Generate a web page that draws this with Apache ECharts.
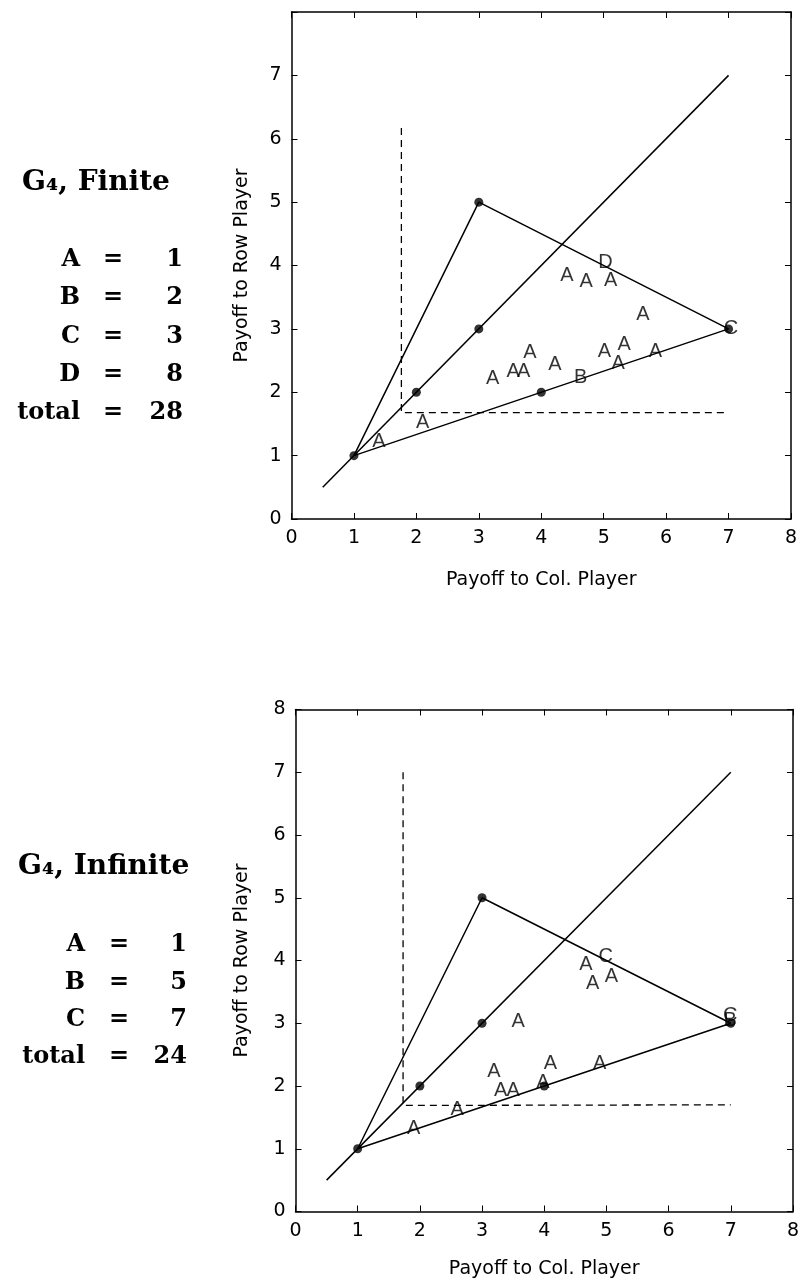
<!DOCTYPE html>
<html><head><meta charset="utf-8">
<script src="https://cdn.jsdelivr.net/npm/echarts/dist/echarts.min.js"></script>
<style>html,body{margin:0;padding:0;background:#fff}#c{width:802px;height:1284px}</style>
</head><body><div id="c"></div>
<script>
// ---------- data ----------
const tickValues = [0, 1, 2, 3, 4, 5, 6, 7, 8];
const xTickLabels = ['0', '1', '2', '3', '4', '5', '6', '7', '8'];
const finiteYTickLabels = ['0', '1', '2', '3', '4', '5', '6', '7', ''];
const infiniteYTickLabels = ['0', '1', '2', '3', '4', '5', '6', '7', '8'];

const xName = 'Payoff to Col. Player';
const yName = 'Payoff to Row Player';

// payoff region boundary and 45-degree line
const boundaryPts = [[1, 1], [3, 5], [7, 3], [1, 1]];
const diagonalPts = [[0.5, 0.5], [7, 7]];
const vertexDots = [[1, 1], [2, 2], [3, 3], [3, 5], [4, 2], [7, 3]];

// dashed reference lines
const finiteDashed = [[1.76, 6.17], [1.76, 1.68], [7, 1.68]];
const infiniteDashed = [[1.73, 7], [1.73, 1.69], [7, 1.7]];

// Finite game outcomes
const finiteTitle = 'G\u2084, Finite';
const finiteLegendLetters = ['A', 'B', 'C', 'D'];
const finiteLegendCounts = ['1', '2', '3', '8'];
const finiteTotal = '28';
const finiteA = [[1.40, 1.22], [2.10, 1.52], [3.22, 2.21], [3.55, 2.32], [3.72, 2.32],
  [3.82, 2.63], [4.22, 2.44], [5.01, 2.65], [5.33, 2.76], [5.23, 2.46], [5.83, 2.64],
  [5.63, 3.23], [4.41, 3.85], [4.72, 3.74], [5.11, 3.76]];
const finiteB = [[4.63, 2.23]];
const finiteC = [[7.04, 3.0]];
const finiteD = [[5.03, 4.04]];

// Infinite game outcomes
const infiniteTitle = 'G\u2084, Infinite';
const infiniteLegendLetters = ['A', 'B', 'C'];
const infiniteLegendCounts = ['1', '5', '7'];
const infiniteTotal = '24';
const infiniteA = [[1.90, 1.33], [2.60, 1.62], [3.19, 2.23], [3.30, 1.93], [3.50, 1.93],
  [3.98, 2.05], [4.10, 2.36], [4.89, 2.36], [3.58, 3.03], [4.67, 3.94], [4.78, 3.64],
  [5.08, 3.74]];
const infiniteB = [[6.99, 3.04]];
const infiniteC = [[4.99, 4.06], [6.99, 3.12]];

// ---------- chart ----------
const chart = echarts.init(document.getElementById('c'), null, {renderer: 'canvas'});
const BLACK = '#000';
const sansFont = 'DejaVu Sans';

function labelFrom(labels) {
  return v => { const i = tickValues.indexOf(Math.round(v * 1000) / 1000); return i < 0 ? '' : labels[i]; };
}

const grids = [
  {left: 291.5, top: 12, width: 499.5, height: 507},
  {left: 295.5, top: 709.5, width: 500, height: 502}
];

const xAxes = [], yAxes = [];
function addAxes(gi, yLabels, xNameGap, yNameGap) {
  const common = {type: 'value', min: 0, max: 8, interval: 1, gridIndex: gi,
    splitLine: {show: false},
    axisLine: {show: true, onZero: false, lineStyle: {color: BLACK, width: 1.5}},
    axisTick: {show: true, inside: true, length: 6, lineStyle: {color: BLACK, width: 1}}};
  xAxes.push(Object.assign({}, common, {position: 'bottom',
    name: xName, nameLocation: 'middle', nameGap: xNameGap,
    nameTextStyle: {fontFamily: sansFont, fontSize: 19, color: BLACK},
    axisLabel: {show: true, margin: 10, fontFamily: sansFont, fontSize: 19, color: BLACK, formatter: labelFrom(xTickLabels)}}));
  xAxes.push(Object.assign({}, common, {position: 'top', axisLabel: {show: false}}));
  yAxes.push(Object.assign({}, common, {position: 'left',
    name: yName, nameLocation: 'middle', nameGap: yNameGap,
    nameTextStyle: {fontFamily: sansFont, fontSize: 19, color: BLACK},
    axisLabel: {show: true, margin: 10, fontFamily: sansFont, fontSize: 19, color: BLACK, formatter: labelFrom(yLabels)}}));
  yAxes.push(Object.assign({}, common, {position: 'right', axisLabel: {show: false}}));
}
addAxes(0, finiteYTickLabels, 52, 40);
addAxes(1, infiniteYTickLabels, 48, 44);

const series = [];
function lineSeries(ai, pts, dashed) {
  return {type: 'line', xAxisIndex: ai, yAxisIndex: ai, data: pts, showSymbol: false,
    symbol: 'none', silent: true, animation: false,
    lineStyle: {color: BLACK, width: dashed ? 1.3 : 1.5, type: dashed ? [7, 5] : 'solid'}};
}
function letterSeries(ai, groups) {
  const data = [];
  groups.forEach(([letter, pts]) => pts.forEach(p => data.push({value: p, name: letter})));
  return {type: 'scatter', xAxisIndex: ai, yAxisIndex: ai, data: data, symbol: 'circle',
    symbolSize: 1, itemStyle: {color: 'rgba(0,0,0,0)'}, silent: true, animation: false,
    label: {show: true, position: 'inside', formatter: p => p.name,
      fontFamily: 'Liberation Sans', fontSize: 20, color: BLACK}, labelLayout: {hideOverlap: false}};
}
function dotSeries(ai) {
  return {type: 'scatter', xAxisIndex: ai, yAxisIndex: ai, data: vertexDots, symbol: 'circle',
    symbolSize: 9, itemStyle: {color: BLACK}, silent: true, animation: false};
}
// panel 1 (axes index 0), panel 2 (axes index 2)
series.push(lineSeries(0, boundaryPts), lineSeries(0, diagonalPts), lineSeries(0, finiteDashed, true));
series.push(letterSeries(0, [['A', finiteA], ['B', finiteB], ['C', finiteC], ['D', finiteD]]));
series.push(dotSeries(0));
series.push(lineSeries(2, boundaryPts), lineSeries(2, diagonalPts), lineSeries(2, infiniteDashed, true));
series.push(letterSeries(2, [['A', infiniteA], ['B', infiniteB], ['C', infiniteC]]));
series.push(dotSeries(2));

// left-side summary text
const serifBold = 'bold 24px "DejaVu Serif"';
const graphics = [];
function summary(title, letters, counts, total, titleX, titleY, rowYs, letterRight, eqX, numRight) {
  graphics.push({type: 'text', x: titleX, y: titleY, silent: true,
    style: {text: title, font: 'bold 28px "DejaVu Serif"', fill: BLACK, align: 'left', verticalAlign: 'middle'}});
  const names = letters.concat(['total']);
  const vals = counts.concat([total]);
  names.forEach((n, i) => {
    graphics.push({type: 'text', x: letterRight, y: rowYs[i], silent: true,
      style: {text: n, font: serifBold, fill: BLACK, align: 'right', verticalAlign: 'middle'}});
    graphics.push({type: 'text', x: eqX, y: rowYs[i], silent: true,
      style: {text: '=', font: serifBold, fill: BLACK, align: 'center', verticalAlign: 'middle'}});
    graphics.push({type: 'text', x: numRight, y: rowYs[i], silent: true,
      style: {text: vals[i], font: serifBold, fill: BLACK, align: 'right', verticalAlign: 'middle'}});
  });
}
summary(finiteTitle, finiteLegendLetters, finiteLegendCounts, finiteTotal, 22, 183,
  [260, 298, 337, 375, 413], 80, 113, 183);
summary(infiniteTitle, infiniteLegendLetters, infiniteLegendCounts, infiniteTotal, 18, 867,
  [945, 983, 1020, 1057], 85, 119, 187);

chart.setOption({
  animation: false,
  backgroundColor: '#fff',
  grid: grids,
  xAxis: xAxes,
  yAxis: yAxes,
  series: series,
  graphic: graphics
});
</script>
</body></html>
